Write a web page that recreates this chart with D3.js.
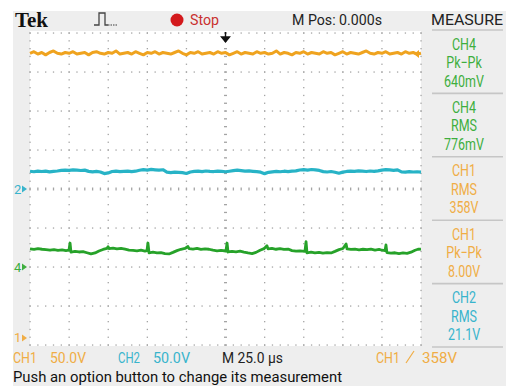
<!DOCTYPE html>
<html lang="en">
<head>
<meta charset="UTF-8">
<title>Tek scope capture</title>
<script src="https://d3js.org/d3.v7.min.js"></script>
<style>
  body { margin: 0; background: #fff; }
  svg { display: block; }
  text { font-family: Roboto, "Liberation Sans", sans-serif; }
</style>
</head>
<body>
<div id="container"></div>
<script>
// scope settings
const timeRange = [-125, 125];       // µs, 25 µs/div, trigger in the middle
const sampleStep = 2.5;              // µs between stored samples of CH1 / CH2
const ch1VoltsPerDiv = 50, ch2VoltsPerDiv = 50, ch4VoltsPerDiv = 2;
const ch1Ground = -3.82, ch2Ground = 0, ch4Ground = -2;   // divisions from centre
const ch1MarkerLevel = 364;          // V, where the trigger level arrow sits

// CH1 (orange), volts
const ch1Volts = [365,367,364,366,363,366,368,365,364,366,365,367,364,365,366,363,366,367,365,364,
  366,365,368,364,365,366,364,367,365,363,366,365,367,364,366,365,364,366,368,365,
  363,366,365,367,364,365,366,364,367,365,366,363,365,367,364,366,365,364,367,365,
  366,364,365,368,364,366,365,363,366,365,367,364,366,365,364,367,365,366,363,365,
  367,364,366,365,364,366,368,365,364,366,365,367,364,365,366,364,367,365,366,364,365];

// CH2 (cyan), volts
const ch2Volts = [22.8,22.1,23.0,22.4,22.9,21.9,22.6,23.1,
  23.8,24.3,23.9,24.6,24.1,23.7,24.2,
  22.6,22.0,22.5,21.8,
  19.8,20.6,
  22.4,22.9,22.2,22.7,23.0,22.3,22.8,
  24.0,24.8,24.3,25.1,24.6,24.2,24.7,
  21.6,21.1,21.7,21.3,21.0,
  19.9,
  21.8,22.5,22.9,22.2,23.1,22.6,22.4,23.0,22.7,22.1,22.8,
  23.5,24.2,23.6,22.9,23.3,22.7,22.2,21.6,
  19.7,
  21.4,22.0,22.6,22.1,22.8,22.3,22.9,23.2,
  24.4,24.9,24.3,25.0,24.5,23.8,
  22.3,21.8,22.4,21.5,
  20.2,
  21.6,22.5,23.0,22.6,23.2,22.8,22.4,23.1,22.7,23.3,
  24.2,24.8,24.4,23.9,24.6,
  22.0,21.6,22.3,21.8,22.1,21.7];

// CH4 (green), [µs, volts] - spikes need their own time stamps
const ch4Samples = [[-125.0,0.93],[-122.4,0.90],[-119.9,0.94],[-117.3,0.91],[-114.8,0.89],[-112.2,0.86],
  [-109.7,0.89],[-107.1,0.85],[-104.5,0.88],[-102.0,0.84],[-100.1,0.86],[-99.4,1.23],[-98.8,0.76],
  [-96.2,0.80],[-93.7,0.77],[-91.1,0.79],[-88.6,0.73],[-86.0,0.67],[-83.4,0.72],[-80.9,0.82],
  [-78.3,0.90],[-75.8,0.95],[-75.1,1.04],[-74.5,0.94],[-71.9,0.97],[-69.4,0.93],[-66.8,0.96],
  [-64.2,0.92],[-61.7,0.87],[-59.1,0.85],[-56.6,0.83],[-54.0,0.86],[-51.5,0.82],[-50.2,0.84],
  [-49.6,1.23],[-48.9,0.73],[-46.4,0.76],[-43.8,0.72],[-41.3,0.74],[-38.7,0.69],[-36.1,0.67],
  [-33.6,0.75],[-31.0,0.84],[-28.5,0.91],[-25.9,0.95],[-24.0,1.05],[-23.3,0.94],[-20.8,0.92],
  [-18.2,0.95],[-15.7,0.90],[-13.1,0.93],[-10.6,0.91],[-8.0,0.86],[-5.4,0.83],[-2.9,0.85],
  [0.3,0.82],[1.0,1.23],[1.6,0.77],[4.2,0.80],[6.7,0.78],[9.3,0.81],[11.8,0.76],[14.4,0.72],
  [17.0,0.69],[19.5,0.75],[22.1,0.86],[24.6,0.94],[26.5,1.09],[27.2,0.93],[29.7,0.95],[32.3,0.91],
  [34.8,0.94],[37.4,0.90],[40.0,0.92],[42.5,0.84],[45.1,0.81],[47.6,0.83],[50.8,0.80],[51.5,1.30],
  [52.1,0.73],[54.7,0.76],[57.2,0.72],[59.8,0.75],[62.3,0.71],[64.9,0.74],[67.5,0.72],[70.0,0.80],
  [72.6,0.89],[75.1,0.95],[77.1,1.18],[77.7,0.93],[80.2,0.90],[82.8,0.92],[85.4,0.88],[87.9,0.91],
  [90.5,0.89],[93.0,0.92],[95.6,0.87],[98.2,0.90],[100.1,0.86],[102.0,0.84],[102.6,1.13],[103.2,0.74],
  [105.8,0.71],[108.4,0.73],[110.9,0.69],[113.5,0.72],[116.1,0.70],[118.6,0.76],[121.2,0.86],
  [123.1,0.91],[125.0,0.92]];

// measure menu
const measureChannels = ["CH4", "CH4", "CH1", "CH1", "CH2"];
const measureKinds = ["Pk\u2212Pk", "RMS", "RMS", "Pk\u2212Pk", "RMS"];
const measureValues = ["640mV", "776mV", "358V", "8.00V", "21.1V"];

// status texts
const headerTexts = ["Tek", "Stop", "M Pos: 0.000s", "MEASURE"];
const statusTexts = ["CH1", "50.0V", "CH2", "50.0V", "M 25.0 \u00b5s", "CH1", "358V"];
const hintText = "Push an option button to change its measurement";

const colors = { CH1: "#efa31f", CH2: "#27b3c6", CH4: "#26a229" };
const textColors = { CH1: "#f0ad45", CH2: "#38b4cc", CH4: "#3eae3e" };

const width = 506, height = 386;
const plot = { left: 30, right: 421, top: 33, bottom: 345 };

const svg = d3.select("#container").append("svg")
    .attr("width", width)
    .attr("height", height);

// scales
const x = d3.scaleLinear().domain(timeRange).range([plot.left, plot.right]);
const div = d3.scaleLinear().domain([-4, 4]).range([plot.bottom, plot.top]);
const yCh1 = v => div(v / ch1VoltsPerDiv + ch1Ground);
const yCh2 = v => div(v / ch2VoltsPerDiv + ch2Ground);
const yCh4 = v => div(v / ch4VoltsPerDiv + ch4Ground);

// background frame
svg.append("rect").attr("x", 13).attr("y", 11).attr("width", width - 13).attr("height", height - 11)
    .attr("fill", "#eeeeee");
svg.append("rect").attr("x", plot.left).attr("y", plot.top - 2)
    .attr("width", plot.right - plot.left).attr("height", plot.bottom - plot.top + 3)
    .attr("fill", "#ffffff");

// graticule: dotted lines every division, dots every 1/5 division
const grid = svg.append("g").attr("fill", "#a4a4a4");
const minorT = d3.range(0, 51).map(i => timeRange[0] + i * 5);
const minorD = d3.range(0, 41).map(i => -4 + i * 0.2);
d3.range(0, 11).forEach(i => {
    const t = timeRange[0] + i * 25;
    grid.selectAll(null).data(minorD).enter().append("rect")
        .attr("x", x(t) - (t === 0 ? 1.5 : 0.6)).attr("y", d => div(d) - 0.6)
        .attr("width", t === 0 ? 3 : 1.3).attr("height", 1.3);
});
d3.range(0, 9).forEach(i => {
    const d0 = -4 + i;
    grid.selectAll(null).data(minorT).enter().append("rect")
        .attr("x", t => x(t) - 0.6).attr("y", div(d0) - (d0 === 0 ? 1.5 : 0.6))
        .attr("width", 1.3).attr("height", d0 === 0 ? 3 : 1.3);
});

// traces
const line = d3.line().curve(d3.curveLinear);
function trace(points, color, w) {
    svg.append("path")
        .attr("d", line(points))
        .attr("fill", "none")
        .attr("stroke", color)
        .attr("stroke-width", w)
        .attr("stroke-linejoin", "round");
}
trace(ch1Volts.map((v, i) => [x(timeRange[0] + i * sampleStep), yCh1(v)]), colors.CH1, 3);
trace(ch2Volts.map((v, i) => [x(timeRange[0] + i * sampleStep), yCh2(v)]), colors.CH2, 3.2);
trace(ch4Samples.map(d => [x(d[0]), yCh4(d[1])]), colors.CH4, 2.8);

// trigger position arrow
const tx = x(0);
svg.append("path")
    .attr("d", `M${tx},${plot.top - 1}V${plot.top + 5}M${tx - 4},${plot.top + 4}L${tx + 4},${plot.top + 4}L${tx},${plot.top + 9}Z`)
    .attr("stroke", "#111").attr("stroke-width", 1.4).attr("fill", "#111");

// trigger level marker (right edge)
const ty = yCh1(ch1MarkerLevel);
svg.append("path")
    .attr("d", `M${plot.right - 7},${ty}L${plot.right - 2},${ty - 4}L${plot.right - 2},${ty + 4}Z`)
    .attr("fill", colors.CH1);

// channel ground markers
[["2", ch2Ground, "CH2"], ["4", ch4Ground, "CH4"], ["1", ch1Ground, "CH1"]].forEach(([lab, g, ch]) => {
    const y = div(g);
    svg.append("text").attr("x", 14).attr("y", y + 4.5)
        .attr("font-size", 13).attr("fill", textColors[ch]).text(lab);
    svg.append("path")
        .attr("d", `M22,${y - 3.5}L27,${y}L22,${y + 3.5}Z`)
        .attr("fill", textColors[ch]);
});

// header
svg.append("text").attr("x", 15).attr("y", 27)
    .style("font-family", "'Liberation Serif', 'DejaVu Serif', serif").attr("font-weight", "bold")
    .attr("font-size", 20).attr("textLength", 33).attr("lengthAdjust", "spacingAndGlyphs")
    .attr("fill", "#111").text(headerTexts[0]);
svg.append("path").attr("d", "M94,25H99V13H105V25H108").attr("fill", "none")
    .attr("stroke", "#444").attr("stroke-width", 1.3);
svg.append("path").attr("d", "M108,25H118").attr("fill", "none")
    .attr("stroke", "#777").attr("stroke-width", 1.3).attr("stroke-dasharray", "1.5,1");
svg.append("circle").attr("cx", 177).attr("cy", 20).attr("r", 6.5).attr("fill", "#d3191c");
svg.append("text").attr("x", 190).attr("y", 25).attr("font-size", 15)
    .attr("textLength", 29).attr("lengthAdjust", "spacingAndGlyphs")
    .attr("fill", "#c9302f").text(headerTexts[1]);
svg.append("text").attr("x", 292).attr("y", 25).attr("font-size", 15)
    .attr("textLength", 90).attr("lengthAdjust", "spacingAndGlyphs")
    .attr("fill", "#222").text(headerTexts[2]);
svg.append("text").attr("x", 431).attr("y", 24.5).attr("font-size", 15.5)
    .attr("textLength", 72).attr("lengthAdjust", "spacingAndGlyphs")
    .attr("fill", "#222").text(headerTexts[3]);

// measure panel
const boxTop = 30, boxH = 63.4;
d3.range(0, 6).forEach(k => {
    svg.append("line").attr("x1", 432).attr("x2", 503)
        .attr("y1", boxTop + k * boxH).attr("y2", boxTop + k * boxH)
        .attr("stroke", "#c6c6c6").attr("stroke-width", 1.6);
});
measureChannels.forEach((ch, k) => {
    const top = boxTop + k * boxH;
    [ch, measureKinds[k], measureValues[k]].forEach((s, j) => {
        svg.append("g")
            .attr("transform", `translate(464,${top + 19.5 + j * 18.5}) scale(0.78,1)`)
            .append("text")
            .attr("text-anchor", "middle").attr("font-size", 16)
            .attr("fill", textColors[ch]).text(s);
    });
});

// status line
const statusLayout = [
    { x: 13, w: 24, c: textColors.CH1 }, { x: 50, w: 36, c: textColors.CH1 },
    { x: 118, w: 22, c: textColors.CH2 }, { x: 153, w: 37, c: textColors.CH2 },
    { x: 222, w: 61, c: "#222" },
    { x: 376, w: 24, c: textColors.CH1 }, { x: 422, w: 35, c: textColors.CH1 }
];
statusTexts.forEach((s, i) => {
    const l = statusLayout[i];
    svg.append("text").attr("x", l.x).attr("y", 363).attr("font-size", 15.5)
        .attr("textLength", l.w).attr("lengthAdjust", "spacingAndGlyphs")
        .attr("fill", l.c).text(s);
});
// rising edge slope symbol
svg.append("path").attr("d", "M406,363L414,351").attr("stroke", textColors.CH1).attr("stroke-width", 1.2);

svg.append("text").attr("x", 13).attr("y", 382).attr("font-size", 14)
    .attr("textLength", 329).attr("lengthAdjust", "spacingAndGlyphs")
    .attr("fill", "#111").text(hintText);
</script>
</body>
</html>
